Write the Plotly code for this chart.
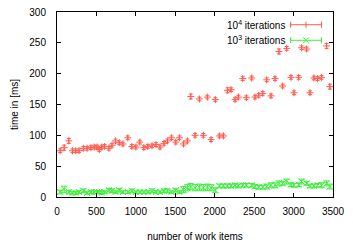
import plotly.graph_objects as go

# work items (x)
work_items = [41, 91, 150, 196, 237, 279, 335, 382, 430, 472, 507, 536, 566, 604,
              659, 697, 742, 789, 836, 898, 949, 1000, 1050, 1101, 1152, 1205, 1256,
              1306, 1357, 1401, 1452, 1506, 1553, 1604, 1654, 1697, 1751, 1806, 1856,
              1907, 1954, 2008, 2059, 2110, 2161, 2207, 2258, 2300, 2355, 2401, 2469,
              2511, 2558, 2609, 2659, 2714, 2765, 2815, 2862, 2913, 2967, 3005, 3065,
              3102, 3166, 3208, 3258, 3305, 3355, 3419, 3460]

# 10^4 iterations (ms)
t_1e4 = [75, 80, 91, 75, 75, 75, 79, 79, 80, 81, 81, 77, 81, 82, 79, 84, 91, 88, 86,
         96, 82, 81, 89, 80, 82, 83, 85, 81, 87, 91, 96, 89, 96, 86, 91, 163, 100, 159,
         100, 162, 93, 158, 99, 99, 173, 174, 158, 162, 192, 161, 193, 162, 165, 168,
         190, 164, 192, 236, 180, 241, 194, 169, 194, 242, 240, 169, 193, 192, 194,
         245, 179]
err_1e4 = [3, 4, 4, 3, 3, 3, 3, 3, 3, 3, 3, 3, 3, 3, 3, 3, 3, 3, 3, 3, 3, 3, 3, 3, 3,
           3, 3, 3, 3, 3, 3, 3, 3, 3, 3, 4, 3, 3, 3, 3, 3, 3, 3, 3, 4, 3, 3, 3, 3, 3,
           3, 3, 3, 3, 3, 3, 3, 4, 3, 3, 3, 3, 3, 3, 3, 3, 3, 3, 3, 4, 4]

# 10^3 iterations (ms)
t_1e3 = [8, 12.5, 8, 6.5, 6.5, 8, 10, 6.5, 8, 8, 8, 8, 6.5, 8, 11, 10, 8, 11, 8, 8,
         10, 8, 8, 8, 8, 10, 8, 8, 10, 10, 8, 11, 8, 12, 15, 17, 15, 16, 15, 16, 15,
         11, 18, 18, 18, 18, 19, 18, 19, 19, 19, 17, 16, 16, 17, 19, 19, 22, 22, 25,
         20, 19, 20, 25, 22, 18, 18, 19, 19, 22, 17]
err_1e3 = [3, 5, 3, 2, 2, 2, 3, 2, 3, 2, 2, 2, 2, 2, 3, 3, 2, 3, 2, 2, 3, 2, 2, 2, 2,
           3, 2, 2, 3, 3, 2, 3, 2, 5, 5, 5, 5, 5, 5, 5, 5, 4, 3, 3, 3, 3, 3, 3, 3, 3,
           3, 3, 3, 3, 4, 4, 4, 4, 3, 4, 3, 3, 3, 4, 3, 3, 3, 3, 4, 4, 4]

x_ticks = [0, 500, 1000, 1500, 2000, 2500, 3000, 3500]
y_ticks = [0, 50, 100, 150, 200, 250, 300]
series_names = ["10<sup>4</sup> iterations", "10<sup>3</sup> iterations"]

RED = "#ff5a4e"
GREEN = "#3cf03c"
FONT = "Liberation Sans"

fig = go.Figure()
fig.add_trace(go.Scatter(
    x=work_items, y=t_1e4, mode="markers", showlegend=False,
    marker=dict(symbol="cross-thin", size=5, line=dict(color=RED, width=1)),
    error_y=dict(type="data", array=err_1e4, color=RED, thickness=1, width=2),
))
fig.add_trace(go.Scatter(
    x=work_items, y=t_1e3, mode="markers", showlegend=False,
    marker=dict(symbol="x-thin", size=6, line=dict(color=GREEN, width=1)),
    error_y=dict(type="data", array=err_1e3, color=GREEN, thickness=1, width=3),
))

# target plot area in page pixels: left 57, right 333.5, top 12.3, bottom 196.7
L, R, T, B = 57, 333.5, 12.3, 196.7
W, H = 353, 248


def px(x):
    return (x - L) / (R - L)


def py(y):
    return (B - y) / (B - T)


# manual gnuplot-style key
key_rows = [(25, RED, "plus"), (40.5, GREEN, "x")]
for (ypix, col, kind), name in zip(key_rows, series_names):
    fig.add_annotation(xref="paper", yref="paper", x=px(287), y=py(ypix),
                       text=name, showarrow=False, xanchor="right", yanchor="middle",
                       font=dict(family=FONT, size=10, color="black"))
    fig.add_shape(type="line", xref="paper", yref="paper", x0=px(291), x1=px(322),
                  y0=py(ypix), y1=py(ypix), line=dict(color=col, width=1))
    for xe in (291, 322):
        fig.add_shape(type="line", xref="paper", yref="paper", x0=px(xe), x1=px(xe),
                      y0=py(ypix - 3), y1=py(ypix + 3), line=dict(color=col, width=1))
    cx = 306.5
    if kind == "plus":
        fig.add_shape(type="line", xref="paper", yref="paper", x0=px(cx), x1=px(cx),
                      y0=py(ypix - 3), y1=py(ypix + 3), line=dict(color=col, width=1))
    else:
        fig.add_shape(type="line", xref="paper", yref="paper", x0=px(cx - 3), x1=px(cx + 3),
                      y0=py(ypix - 3), y1=py(ypix + 3), line=dict(color=col, width=1))
        fig.add_shape(type="line", xref="paper", yref="paper", x0=px(cx - 3), x1=px(cx + 3),
                      y0=py(ypix + 3), y1=py(ypix - 3), line=dict(color=col, width=1))

axis_common = dict(showline=True, linecolor="black", linewidth=1, mirror="allticks",
                   ticks="inside", ticklen=4, tickcolor="black", showgrid=False,
                   zeroline=False, automargin=False, ticklabeloverflow="allow",
                   tickfont=dict(family=FONT, size=10, color="black"))

fig.update_xaxes(range=[0, 3500], tickvals=x_ticks, ticklabelstandoff=5,
                 title=dict(text="number of work items", standoff=16,
                            font=dict(family=FONT, size=10, color="black")),
                 **axis_common)
fig.update_yaxes(range=[0, 300], tickvals=y_ticks, ticklabelstandoff=8,
                 title=dict(text="time in [ms]", standoff=8,
                            font=dict(family=FONT, size=10, color="black")),
                 **axis_common)

fig.update_layout(width=W, height=H,
                  margin=dict(l=L, r=W - R, t=T, b=H - B),
                  plot_bgcolor="white", paper_bgcolor="white",
                  font=dict(family=FONT, size=10, color="black"))

fig.write_html("out.html",
               config={"displayModeBar": False},
               post_script="document.body.style.margin='0';"
                           "document.body.style.overflow='hidden';")
